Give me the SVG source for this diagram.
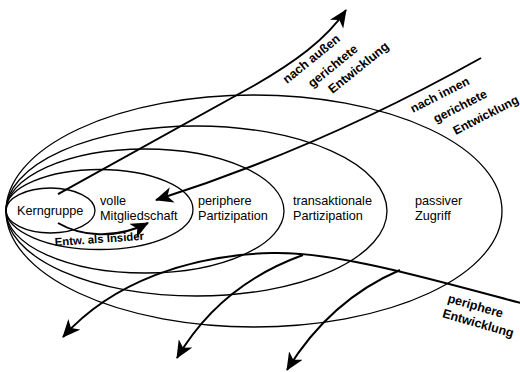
<svg xmlns="http://www.w3.org/2000/svg" width="520" height="372" viewBox="0 0 520 372">
<style>
.ring{fill:none;stroke:#000;stroke-width:1.3}
.lbl{font-family:"Liberation Sans",Arial,sans-serif;font-size:12.7px;fill:#000}
.arr{fill:none;stroke:#000;stroke-width:2;marker-end:url(#ah)}
.alb{font-family:"Liberation Sans",Arial,sans-serif;font-size:12.5px;font-weight:bold;fill:#000}
</style>
<defs>
<marker id="ah" markerUnits="userSpaceOnUse" markerWidth="18" markerHeight="16" viewBox="0 0 18 16" refX="17" refY="8" orient="auto">
<path d="M0,0 L18,8 L0,16 L5,8 Z" fill="#000"/>
</marker>
</defs>
<rect width="520" height="372" fill="#fff"/>
<g id="passiver-zugriff">
<ellipse class="ring" cx="254" cy="211" rx="248" ry="116"/>
<text class="lbl" x="415" y="205">passiver</text>
<text class="lbl" x="415" y="220">Zugriff</text>
</g>
<g id="transaktionale-partizipation">
<ellipse class="ring" cx="196.5" cy="211" rx="190.5" ry="85"/>
<text class="lbl" x="293" y="205">transaktionale</text>
<text class="lbl" x="293" y="220">Partizipation</text>
</g>
<g id="periphere-partizipation">
<ellipse class="ring" cx="145" cy="211" rx="139" ry="62"/>
<text class="lbl" x="198" y="205">periphere</text>
<text class="lbl" x="198" y="220">Partizipation</text>
</g>
<g id="volle-mitgliedschaft">
<ellipse class="ring" cx="99.5" cy="209.5" rx="93.5" ry="40"/>
<text class="lbl" x="100" y="205">volle</text>
<text class="lbl" x="100" y="220">Mitgliedschaft</text>
</g>
<g id="kerngruppe">
<ellipse class="ring" cx="50.5" cy="210.5" rx="44.5" ry="22.5"/>
<text class="lbl" x="17" y="215">Kerngruppe</text>
</g>
<g id="connectors">
<path class="arr" d="M58,194 L255,85 C293,63 326,40 346,10"/>
<path class="arr" d="M481,58 Q320,148 156,200"/>
<path class="arr" d="M58,223 C80,236 115,240 148,223"/>
<path class="arr" d="M521,303 C450,285 340,251 272,253 C190,255 112,282 63,337"/>
<path class="arr" d="M303,255 Q220,285 177,358"/>
<path class="arr" d="M400,270 Q330,300 287,370"/>
<g class="alb">
<g transform="translate(287,84) rotate(-39)">
<text x="0" y="0">nach außen</text>
<text x="17" y="19">gerichtete</text>
<text x="29" y="36.5">Entwicklung</text>
</g>
<g transform="translate(413,113) rotate(-27)" style="font-size:12.2px">
<text x="0" y="0">nach innen</text>
<text x="16" y="19.5">gerichtete</text>
<text x="28" y="39">Entwicklung</text>
</g>
<g transform="translate(447,302) rotate(16)">
<text x="0" y="0">periphere</text>
<text x="-1" y="16">Entwicklung</text>
</g>
<text transform="translate(55,246) rotate(-4)" style="font-size:11.4px">Entw. als Insider</text>
</g>
</g>
</svg>
